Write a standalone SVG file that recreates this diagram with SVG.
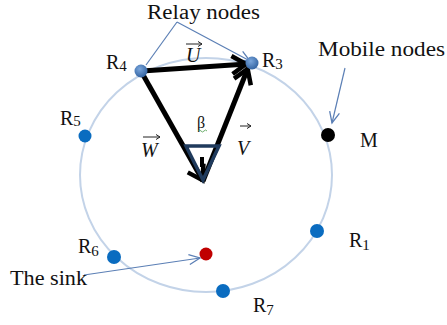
<svg xmlns="http://www.w3.org/2000/svg" width="447" height="325" viewBox="0 0 447 325" font-family="'Liberation Serif','DejaVu Serif',serif">
<style>
text{font-family:"Liberation Serif","DejaVu Serif",serif;fill:#111}
.lbl{font-size:20px}
.sub{font-size:15px}
.vec{font-size:20px;font-style:italic}
.lead{stroke:#5b7fb5;stroke-width:1.2;fill:none}
.bold{stroke:#000;stroke-width:5;fill:none;stroke-linecap:butt}
.blue{fill:#0a6cc0}
</style>
<defs>
<marker id="thin" markerUnits="userSpaceOnUse" markerWidth="1" markerHeight="1" refX="0" refY="0" orient="auto" overflow="visible">
<path d="M-11,-5 L0,0 L-11,5" fill="none" stroke="#5b7fb5" stroke-width="1.3"/>
</marker>
<marker id="thick" markerUnits="userSpaceOnUse" markerWidth="1" markerHeight="1" refX="0" refY="0" orient="auto" overflow="visible">
<path d="M-15,-9 L-1,0 L-15,9" fill="none" stroke="#000" stroke-width="4.5" stroke-linejoin="miter"/>
</marker>
<marker id="small" markerUnits="userSpaceOnUse" markerWidth="1" markerHeight="1" refX="0" refY="0" orient="auto" overflow="visible">
<path d="M-4,-2.5 L0,0 L-4,2.5" fill="none" stroke="#222" stroke-width="1"/>
</marker>
<radialGradient id="relay" cx="0.4" cy="0.35" r="0.7">
<stop offset="0" stop-color="#7aa6dc"/>
<stop offset="1" stop-color="#2e5f9e"/>
</radialGradient>
</defs>

<ellipse id="ring" cx="206" cy="175" rx="126" ry="117" fill="none" stroke="#c3d3e8" stroke-width="2"/>

<g id="connectors">
<path class="lead" d="M177,22 L146,65"/>
<path class="lead" d="M177,22 L250,61" marker-end="url(#thin)"/>
<path class="lead" d="M345,68 L332,123" marker-end="url(#thin)"/>
<path class="lead" d="M84,275 L200,258" marker-end="url(#thin)"/>
<path class="bold" d="M142,71 L247,64" marker-end="url(#thick)"/>
<path class="bold" d="M142,73 L203,181" marker-end="url(#thick)"/>
<path class="bold" d="M203,181 L248,68" marker-end="url(#thick)"/>
</g>

<g id="angle">
<path d="M186,146 L219,146 L203,180 Z" fill="none" stroke="#1f3a5c" stroke-width="3.5" stroke-linejoin="miter"/>
<path d="M202,157 L202,167" stroke="#000" stroke-width="4"/>
<text x="197" y="128" style="font-size:16px">β</text>
<path d="M198,131 q1.5,-2 3,0 t3,0 t3,0" fill="none" stroke="#4a9a4a" stroke-width="0.8"/>
</g>

<g id="vectors">
<text class="vec" x="186" y="62">U</text>
<path d="M186,44 L202,44" stroke="#222" stroke-width="1" marker-end="url(#small)"/>
<text class="vec" x="141" y="157">W</text>
<path d="M143,137 L160,137" stroke="#222" stroke-width="1" marker-end="url(#small)"/>
<text class="vec" x="237" y="155">V</text>
<path d="M240,126 L251,126" stroke="#222" stroke-width="1" marker-end="url(#small)"/>
</g>

<g id="R4"><circle cx="141" cy="71" r="6.5" fill="url(#relay)"/><text x="106" y="69" class="lbl">R<tspan class="sub" dy="2">4</tspan></text></g>
<g id="R3"><circle cx="252" cy="63" r="6.5" fill="url(#relay)"/><text x="262" y="67" class="lbl">R<tspan class="sub" dy="2">3</tspan></text></g>
<g id="R5"><circle class="blue" cx="85" cy="136" r="6.5"/><text x="60" y="125" class="lbl">R<tspan class="sub" dy="1">5</tspan></text></g>
<g id="M"><circle cx="328" cy="135" r="7" fill="#000"/><text x="360" y="147" style="font-size:20px">M</text></g>
<g id="R1"><circle class="blue" cx="317" cy="231" r="7"/><text x="349" y="247" class="lbl">R<tspan class="sub" dy="3">1</tspan></text></g>
<g id="R6"><circle class="blue" cx="114" cy="257" r="7"/><text x="78" y="253" class="lbl">R<tspan class="sub" dy="3">6</tspan></text></g>
<g id="R7"><circle class="blue" cx="223" cy="291" r="7"/><text x="253" y="312" class="lbl">R<tspan class="sub" dy="3">7</tspan></text></g>
<g id="sink"><circle cx="206" cy="254" r="6.5" fill="#c00000"/><text x="10" y="285" style="font-size:20px" textLength="77" lengthAdjust="spacingAndGlyphs">The sink</text></g>

<g id="labels">
<text x="147" y="19" style="font-size:20px" textLength="113" lengthAdjust="spacingAndGlyphs">Relay nodes</text>
<text x="318" y="56" style="font-size:20px" textLength="127" lengthAdjust="spacingAndGlyphs">Mobile nodes</text>
</g>
</svg>
